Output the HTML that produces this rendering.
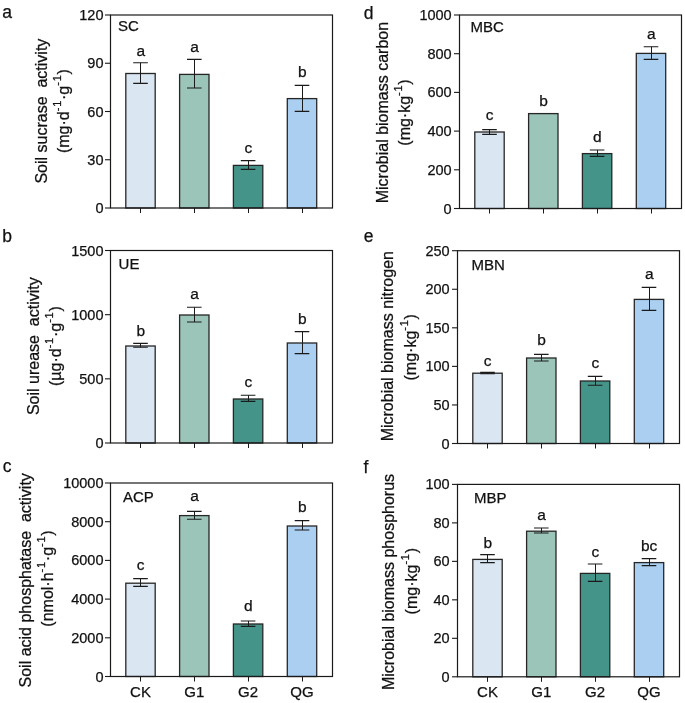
<!DOCTYPE html>
<html><head><meta charset="utf-8"><style>
html,body{margin:0;padding:0;background:#fff;}
body{width:685px;height:703px;overflow:hidden;}
svg{display:block;will-change:transform;}
text{font-family:"Liberation Sans",sans-serif;fill:#111;stroke:#111;stroke-width:0.25px;}
</style></head><body>
<svg width="685" height="703" viewBox="0 0 685 703">
<rect width="685" height="703" fill="#fff"/>
<rect x="125.80" y="73.50" width="29.40" height="134.50" fill="#dae6f2" stroke="#262626" stroke-width="1.3"/>
<path d="M140.50 62.80V83.40" stroke="#1a1a1a" stroke-width="1.05" fill="none"/>
<path d="M133.20 62.80H147.80M133.20 83.40H147.80" stroke="#1a1a1a" stroke-width="1.1" fill="none"/>
<text x="140.70" y="56.40" font-size="15.5" text-anchor="middle">a</text>
<path d="M140.50 208.00V213.00" stroke="#1a1a1a" stroke-width="1"/>
<rect x="179.60" y="74.40" width="29.40" height="133.60" fill="#9cc5b9" stroke="#262626" stroke-width="1.3"/>
<path d="M194.50 59.40V88.00" stroke="#1a1a1a" stroke-width="1.05" fill="none"/>
<path d="M187.00 59.40H201.60M187.00 88.00H201.60" stroke="#1a1a1a" stroke-width="1.1" fill="none"/>
<text x="194.50" y="52.00" font-size="15.5" text-anchor="middle">a</text>
<path d="M194.50 208.00V213.00" stroke="#1a1a1a" stroke-width="1"/>
<rect x="233.40" y="165.40" width="29.40" height="42.60" fill="#44948a" stroke="#262626" stroke-width="1.3"/>
<path d="M248.50 160.60V169.40" stroke="#1a1a1a" stroke-width="1.05" fill="none"/>
<path d="M240.80 160.60H255.40M240.80 169.40H255.40" stroke="#1a1a1a" stroke-width="1.1" fill="none"/>
<text x="248.30" y="153.00" font-size="15.5" text-anchor="middle">c</text>
<path d="M248.50 208.00V213.00" stroke="#1a1a1a" stroke-width="1"/>
<rect x="287.30" y="98.60" width="29.40" height="109.40" fill="#abcff1" stroke="#262626" stroke-width="1.3"/>
<path d="M302.50 85.40V111.40" stroke="#1a1a1a" stroke-width="1.05" fill="none"/>
<path d="M294.70 85.40H309.30M294.70 111.40H309.30" stroke="#1a1a1a" stroke-width="1.1" fill="none"/>
<text x="302.20" y="77.40" font-size="15.5" text-anchor="middle">b</text>
<path d="M302.50 208.00V213.00" stroke="#1a1a1a" stroke-width="1"/>
<rect x="110.50" y="15.00" width="222.00" height="193.00" fill="none" stroke="#1a1a1a" stroke-width="1.2"/>
<path d="M105.00 208.00H110.50" stroke="#1a1a1a" stroke-width="1.1"/>
<text x="103.50" y="213.00" font-size="14.5" text-anchor="end">0</text>
<path d="M105.00 159.75H110.50" stroke="#1a1a1a" stroke-width="1.1"/>
<text x="103.50" y="164.75" font-size="14.5" text-anchor="end">30</text>
<path d="M105.00 111.50H110.50" stroke="#1a1a1a" stroke-width="1.1"/>
<text x="103.50" y="116.50" font-size="14.5" text-anchor="end">60</text>
<path d="M105.00 63.25H110.50" stroke="#1a1a1a" stroke-width="1.1"/>
<text x="103.50" y="68.25" font-size="14.5" text-anchor="end">90</text>
<path d="M105.00 15.00H110.50" stroke="#1a1a1a" stroke-width="1.1"/>
<text x="103.50" y="20.00" font-size="14.5" text-anchor="end">120</text>
<text x="118.00" y="31.40" font-size="15">SC</text>
<text x="2.20" y="18.00" font-size="17.5">a</text>
<text transform="translate(47.40 111.10) rotate(-90)" font-size="16" text-anchor="middle" xml:space="preserve">Soil sucrase  activity</text>
<text transform="translate(69.20 111.10) rotate(-90)" font-size="16" text-anchor="middle"><tspan>(mg·d</tspan><tspan font-size="11" dy="-8" letter-spacing="0.75">-1</tspan><tspan dy="8">·g</tspan><tspan font-size="11" dy="-8" letter-spacing="0.75">-1</tspan><tspan dy="8">)</tspan></text>
<rect x="125.80" y="346.00" width="29.40" height="97.00" fill="#dae6f2" stroke="#262626" stroke-width="1.3"/>
<path d="M140.50 343.40V347.20" stroke="#1a1a1a" stroke-width="1.05" fill="none"/>
<path d="M133.20 343.40H147.80M133.20 347.20H147.80" stroke="#1a1a1a" stroke-width="1.1" fill="none"/>
<text x="140.70" y="336.00" font-size="15.5" text-anchor="middle">b</text>
<path d="M140.50 443.00V448.00" stroke="#1a1a1a" stroke-width="1"/>
<rect x="179.60" y="315.00" width="29.40" height="128.00" fill="#9cc5b9" stroke="#262626" stroke-width="1.3"/>
<path d="M194.50 307.20V322.00" stroke="#1a1a1a" stroke-width="1.05" fill="none"/>
<path d="M187.00 307.20H201.60M187.00 322.00H201.60" stroke="#1a1a1a" stroke-width="1.1" fill="none"/>
<text x="194.50" y="299.40" font-size="15.5" text-anchor="middle">a</text>
<path d="M194.50 443.00V448.00" stroke="#1a1a1a" stroke-width="1"/>
<rect x="233.40" y="399.00" width="29.40" height="44.00" fill="#44948a" stroke="#262626" stroke-width="1.3"/>
<path d="M248.50 395.20V401.40" stroke="#1a1a1a" stroke-width="1.05" fill="none"/>
<path d="M240.80 395.20H255.40M240.80 401.40H255.40" stroke="#1a1a1a" stroke-width="1.1" fill="none"/>
<text x="248.30" y="387.20" font-size="15.5" text-anchor="middle">c</text>
<path d="M248.50 443.00V448.00" stroke="#1a1a1a" stroke-width="1"/>
<rect x="287.30" y="343.00" width="29.40" height="100.00" fill="#abcff1" stroke="#262626" stroke-width="1.3"/>
<path d="M302.50 331.60V353.60" stroke="#1a1a1a" stroke-width="1.05" fill="none"/>
<path d="M294.70 331.60H309.30M294.70 353.60H309.30" stroke="#1a1a1a" stroke-width="1.1" fill="none"/>
<text x="302.20" y="323.60" font-size="15.5" text-anchor="middle">b</text>
<path d="M302.50 443.00V448.00" stroke="#1a1a1a" stroke-width="1"/>
<rect x="110.50" y="250.50" width="222.00" height="192.50" fill="none" stroke="#1a1a1a" stroke-width="1.2"/>
<path d="M105.00 443.00H110.50" stroke="#1a1a1a" stroke-width="1.1"/>
<text x="103.50" y="448.00" font-size="14.5" text-anchor="end">0</text>
<path d="M105.00 378.83H110.50" stroke="#1a1a1a" stroke-width="1.1"/>
<text x="103.50" y="383.83" font-size="14.5" text-anchor="end">500</text>
<path d="M105.00 314.67H110.50" stroke="#1a1a1a" stroke-width="1.1"/>
<text x="103.50" y="319.67" font-size="14.5" text-anchor="end">1000</text>
<path d="M105.00 250.50H110.50" stroke="#1a1a1a" stroke-width="1.1"/>
<text x="103.50" y="255.50" font-size="14.5" text-anchor="end">1500</text>
<text x="118.60" y="269.40" font-size="15">UE</text>
<text x="2.20" y="242.00" font-size="17.5">b</text>
<text transform="translate(38.90 346.20) rotate(-90)" font-size="16" text-anchor="middle" xml:space="preserve">Soil urease  activity</text>
<text transform="translate(61.00 346.10) rotate(-90)" font-size="16" text-anchor="middle"><tspan>(µg·d</tspan><tspan font-size="11" dy="-8" letter-spacing="0.75">-1</tspan><tspan dy="8">·g</tspan><tspan font-size="11" dy="-8" letter-spacing="0.75">-1</tspan><tspan dy="8">)</tspan></text>
<rect x="125.80" y="583.20" width="29.40" height="93.30" fill="#dae6f2" stroke="#262626" stroke-width="1.3"/>
<path d="M140.50 578.60V586.40" stroke="#1a1a1a" stroke-width="1.05" fill="none"/>
<path d="M133.20 578.60H147.80M133.20 586.40H147.80" stroke="#1a1a1a" stroke-width="1.1" fill="none"/>
<text x="140.70" y="570.00" font-size="15.5" text-anchor="middle">c</text>
<path d="M140.50 676.50V681.50" stroke="#1a1a1a" stroke-width="1"/>
<text x="140.50" y="697.3" font-size="15" text-anchor="middle">CK</text>
<rect x="179.60" y="515.60" width="29.40" height="160.90" fill="#9cc5b9" stroke="#262626" stroke-width="1.3"/>
<path d="M194.50 511.40V519.20" stroke="#1a1a1a" stroke-width="1.05" fill="none"/>
<path d="M187.00 511.40H201.60M187.00 519.20H201.60" stroke="#1a1a1a" stroke-width="1.1" fill="none"/>
<text x="194.50" y="501.40" font-size="15.5" text-anchor="middle">a</text>
<path d="M194.50 676.50V681.50" stroke="#1a1a1a" stroke-width="1"/>
<text x="194.30" y="697.3" font-size="15" text-anchor="middle">G1</text>
<rect x="233.40" y="624.00" width="29.40" height="52.50" fill="#44948a" stroke="#262626" stroke-width="1.3"/>
<path d="M248.50 621.00V626.40" stroke="#1a1a1a" stroke-width="1.05" fill="none"/>
<path d="M240.80 621.00H255.40M240.80 626.40H255.40" stroke="#1a1a1a" stroke-width="1.1" fill="none"/>
<text x="248.30" y="611.00" font-size="15.5" text-anchor="middle">d</text>
<path d="M248.50 676.50V681.50" stroke="#1a1a1a" stroke-width="1"/>
<text x="248.10" y="697.3" font-size="15" text-anchor="middle">G2</text>
<rect x="287.30" y="526.00" width="29.40" height="150.50" fill="#abcff1" stroke="#262626" stroke-width="1.3"/>
<path d="M302.50 520.60V530.00" stroke="#1a1a1a" stroke-width="1.05" fill="none"/>
<path d="M294.70 520.60H309.30M294.70 530.00H309.30" stroke="#1a1a1a" stroke-width="1.1" fill="none"/>
<text x="302.20" y="511.60" font-size="15.5" text-anchor="middle">b</text>
<path d="M302.50 676.50V681.50" stroke="#1a1a1a" stroke-width="1"/>
<text x="302.00" y="697.3" font-size="15" text-anchor="middle">QG</text>
<rect x="110.50" y="483.00" width="222.00" height="193.50" fill="none" stroke="#1a1a1a" stroke-width="1.2"/>
<path d="M105.00 676.50H110.50" stroke="#1a1a1a" stroke-width="1.1"/>
<text x="103.50" y="681.50" font-size="14.5" text-anchor="end">0</text>
<path d="M105.00 637.80H110.50" stroke="#1a1a1a" stroke-width="1.1"/>
<text x="103.50" y="642.80" font-size="14.5" text-anchor="end">2000</text>
<path d="M105.00 599.10H110.50" stroke="#1a1a1a" stroke-width="1.1"/>
<text x="103.50" y="604.10" font-size="14.5" text-anchor="end">4000</text>
<path d="M105.00 560.40H110.50" stroke="#1a1a1a" stroke-width="1.1"/>
<text x="103.50" y="565.40" font-size="14.5" text-anchor="end">6000</text>
<path d="M105.00 521.70H110.50" stroke="#1a1a1a" stroke-width="1.1"/>
<text x="103.50" y="526.70" font-size="14.5" text-anchor="end">8000</text>
<path d="M105.00 483.00H110.50" stroke="#1a1a1a" stroke-width="1.1"/>
<text x="103.50" y="488.00" font-size="14.5" text-anchor="end">10000</text>
<text x="123.00" y="501.60" font-size="15">ACP</text>
<text x="2.80" y="472.00" font-size="17.5">c</text>
<text transform="translate(30.90 580.30) rotate(-90)" font-size="16" text-anchor="middle" xml:space="preserve">Soil acid phosphatase  activity</text>
<text transform="translate(53.00 578.50) rotate(-90)" font-size="16" text-anchor="middle"><tspan>(nmol·h</tspan><tspan font-size="11" dy="-8" letter-spacing="0.75">-1</tspan><tspan dy="8">·g</tspan><tspan font-size="11" dy="-8" letter-spacing="0.75">-1</tspan><tspan dy="8">)</tspan></text>
<rect x="474.80" y="132.00" width="29.40" height="76.50" fill="#dae6f2" stroke="#262626" stroke-width="1.3"/>
<path d="M489.50 129.60V134.40" stroke="#1a1a1a" stroke-width="1.05" fill="none"/>
<path d="M482.20 129.60H496.80M482.20 134.40H496.80" stroke="#1a1a1a" stroke-width="1.1" fill="none"/>
<text x="489.70" y="119.50" font-size="15.5" text-anchor="middle">c</text>
<path d="M489.50 208.50V213.50" stroke="#1a1a1a" stroke-width="1"/>
<rect x="528.60" y="113.60" width="29.40" height="94.90" fill="#9cc5b9" stroke="#262626" stroke-width="1.3"/>
<text x="543.50" y="106.00" font-size="15.5" text-anchor="middle">b</text>
<path d="M543.50 208.50V213.50" stroke="#1a1a1a" stroke-width="1"/>
<rect x="582.40" y="153.60" width="29.40" height="54.90" fill="#44948a" stroke="#262626" stroke-width="1.3"/>
<path d="M597.50 150.00V156.40" stroke="#1a1a1a" stroke-width="1.05" fill="none"/>
<path d="M589.80 150.00H604.40M589.80 156.40H604.40" stroke="#1a1a1a" stroke-width="1.1" fill="none"/>
<text x="597.30" y="141.60" font-size="15.5" text-anchor="middle">d</text>
<path d="M597.50 208.50V213.50" stroke="#1a1a1a" stroke-width="1"/>
<rect x="636.30" y="53.40" width="29.40" height="155.10" fill="#abcff1" stroke="#262626" stroke-width="1.3"/>
<path d="M651.50 46.80V59.40" stroke="#1a1a1a" stroke-width="1.05" fill="none"/>
<path d="M643.70 46.80H658.30M643.70 59.40H658.30" stroke="#1a1a1a" stroke-width="1.1" fill="none"/>
<text x="651.20" y="39.00" font-size="15.5" text-anchor="middle">a</text>
<path d="M651.50 208.50V213.50" stroke="#1a1a1a" stroke-width="1"/>
<rect x="459.50" y="15.00" width="222.00" height="193.50" fill="none" stroke="#1a1a1a" stroke-width="1.2"/>
<path d="M454.00 208.50H459.50" stroke="#1a1a1a" stroke-width="1.1"/>
<text x="451.70" y="213.50" font-size="14.5" text-anchor="end">0</text>
<path d="M454.00 169.80H459.50" stroke="#1a1a1a" stroke-width="1.1"/>
<text x="451.70" y="174.80" font-size="14.5" text-anchor="end">200</text>
<path d="M454.00 131.10H459.50" stroke="#1a1a1a" stroke-width="1.1"/>
<text x="451.70" y="136.10" font-size="14.5" text-anchor="end">400</text>
<path d="M454.00 92.40H459.50" stroke="#1a1a1a" stroke-width="1.1"/>
<text x="451.70" y="97.40" font-size="14.5" text-anchor="end">600</text>
<path d="M454.00 53.70H459.50" stroke="#1a1a1a" stroke-width="1.1"/>
<text x="451.70" y="58.70" font-size="14.5" text-anchor="end">800</text>
<path d="M454.00 15.00H459.50" stroke="#1a1a1a" stroke-width="1.1"/>
<text x="451.70" y="20.00" font-size="14.5" text-anchor="end">1000</text>
<text x="470.40" y="32.00" font-size="15">MBC</text>
<text x="363.80" y="18.80" font-size="17.5">d</text>
<text transform="translate(388.10 112.60) rotate(-90)" font-size="16" text-anchor="middle" xml:space="preserve">Microbial biomass carbon</text>
<text transform="translate(409.80 112.50) rotate(-90)" font-size="16" text-anchor="middle"><tspan>(mg·kg</tspan><tspan font-size="11" dy="-8" letter-spacing="0.75">-1</tspan><tspan dy="8">)</tspan></text>
<rect x="472.80" y="373.20" width="29.40" height="70.30" fill="#dae6f2" stroke="#262626" stroke-width="1.3"/>
<path d="M487.50 372.40V373.80" stroke="#1a1a1a" stroke-width="1.05" fill="none"/>
<path d="M480.20 372.40H494.80M480.20 373.80H494.80" stroke="#1a1a1a" stroke-width="1.1" fill="none"/>
<text x="487.70" y="365.60" font-size="15.5" text-anchor="middle">c</text>
<path d="M487.50 443.50V448.50" stroke="#1a1a1a" stroke-width="1"/>
<rect x="526.60" y="358.00" width="29.40" height="85.50" fill="#9cc5b9" stroke="#262626" stroke-width="1.3"/>
<path d="M541.50 354.40V361.00" stroke="#1a1a1a" stroke-width="1.05" fill="none"/>
<path d="M534.00 354.40H548.60M534.00 361.00H548.60" stroke="#1a1a1a" stroke-width="1.1" fill="none"/>
<text x="541.50" y="345.40" font-size="15.5" text-anchor="middle">b</text>
<path d="M541.50 443.50V448.50" stroke="#1a1a1a" stroke-width="1"/>
<rect x="580.40" y="381.00" width="29.40" height="62.50" fill="#44948a" stroke="#262626" stroke-width="1.3"/>
<path d="M595.50 376.40V385.20" stroke="#1a1a1a" stroke-width="1.05" fill="none"/>
<path d="M587.80 376.40H602.40M587.80 385.20H602.40" stroke="#1a1a1a" stroke-width="1.1" fill="none"/>
<text x="595.30" y="368.00" font-size="15.5" text-anchor="middle">c</text>
<path d="M595.50 443.50V448.50" stroke="#1a1a1a" stroke-width="1"/>
<rect x="634.30" y="299.40" width="29.40" height="144.10" fill="#abcff1" stroke="#262626" stroke-width="1.3"/>
<path d="M649.50 287.40V310.40" stroke="#1a1a1a" stroke-width="1.05" fill="none"/>
<path d="M641.70 287.40H656.30M641.70 310.40H656.30" stroke="#1a1a1a" stroke-width="1.1" fill="none"/>
<text x="649.20" y="278.60" font-size="15.5" text-anchor="middle">a</text>
<path d="M649.50 443.50V448.50" stroke="#1a1a1a" stroke-width="1"/>
<rect x="457.50" y="250.70" width="222.00" height="192.80" fill="none" stroke="#1a1a1a" stroke-width="1.2"/>
<path d="M452.00 443.50H457.50" stroke="#1a1a1a" stroke-width="1.1"/>
<text x="449.70" y="448.50" font-size="14.5" text-anchor="end">0</text>
<path d="M452.00 404.94H457.50" stroke="#1a1a1a" stroke-width="1.1"/>
<text x="449.70" y="409.94" font-size="14.5" text-anchor="end">50</text>
<path d="M452.00 366.38H457.50" stroke="#1a1a1a" stroke-width="1.1"/>
<text x="449.70" y="371.38" font-size="14.5" text-anchor="end">100</text>
<path d="M452.00 327.82H457.50" stroke="#1a1a1a" stroke-width="1.1"/>
<text x="449.70" y="332.82" font-size="14.5" text-anchor="end">150</text>
<path d="M452.00 289.26H457.50" stroke="#1a1a1a" stroke-width="1.1"/>
<text x="449.70" y="294.26" font-size="14.5" text-anchor="end">200</text>
<path d="M452.00 250.70H457.50" stroke="#1a1a1a" stroke-width="1.1"/>
<text x="449.70" y="255.70" font-size="14.5" text-anchor="end">250</text>
<text x="471.60" y="270.00" font-size="15">MBN</text>
<text x="363.80" y="242.40" font-size="17.5">e</text>
<text transform="translate(393.40 346.20) rotate(-90)" font-size="16" text-anchor="middle" xml:space="preserve">Microbial biomass nitrogen</text>
<text transform="translate(415.80 347.30) rotate(-90)" font-size="16" text-anchor="middle"><tspan>(mg·kg</tspan><tspan font-size="11" dy="-8" letter-spacing="0.75">-1</tspan><tspan dy="8">)</tspan></text>
<rect x="472.80" y="559.40" width="29.40" height="117.40" fill="#dae6f2" stroke="#262626" stroke-width="1.3"/>
<path d="M487.50 554.60V562.60" stroke="#1a1a1a" stroke-width="1.05" fill="none"/>
<path d="M480.20 554.60H494.80M480.20 562.60H494.80" stroke="#1a1a1a" stroke-width="1.1" fill="none"/>
<text x="487.70" y="547.60" font-size="15.5" text-anchor="middle">b</text>
<path d="M487.50 676.80V681.80" stroke="#1a1a1a" stroke-width="1"/>
<text x="487.50" y="697.3" font-size="15" text-anchor="middle">CK</text>
<rect x="526.60" y="531.20" width="29.40" height="145.60" fill="#9cc5b9" stroke="#262626" stroke-width="1.3"/>
<path d="M541.50 528.00V533.00" stroke="#1a1a1a" stroke-width="1.05" fill="none"/>
<path d="M534.00 528.00H548.60M534.00 533.00H548.60" stroke="#1a1a1a" stroke-width="1.1" fill="none"/>
<text x="541.50" y="520.00" font-size="15.5" text-anchor="middle">a</text>
<path d="M541.50 676.80V681.80" stroke="#1a1a1a" stroke-width="1"/>
<text x="541.30" y="697.3" font-size="15" text-anchor="middle">G1</text>
<rect x="580.40" y="573.40" width="29.40" height="103.40" fill="#44948a" stroke="#262626" stroke-width="1.3"/>
<path d="M595.50 564.00V581.40" stroke="#1a1a1a" stroke-width="1.05" fill="none"/>
<path d="M587.80 564.00H602.40M587.80 581.40H602.40" stroke="#1a1a1a" stroke-width="1.1" fill="none"/>
<text x="595.30" y="557.00" font-size="15.5" text-anchor="middle">c</text>
<path d="M595.50 676.80V681.80" stroke="#1a1a1a" stroke-width="1"/>
<text x="595.10" y="697.3" font-size="15" text-anchor="middle">G2</text>
<rect x="634.30" y="562.60" width="29.40" height="114.20" fill="#abcff1" stroke="#262626" stroke-width="1.3"/>
<path d="M649.50 558.60V565.60" stroke="#1a1a1a" stroke-width="1.05" fill="none"/>
<path d="M641.70 558.60H656.30M641.70 565.60H656.30" stroke="#1a1a1a" stroke-width="1.1" fill="none"/>
<text x="649.20" y="551.00" font-size="15.5" text-anchor="middle">bc</text>
<path d="M649.50 676.80V681.80" stroke="#1a1a1a" stroke-width="1"/>
<text x="649.00" y="697.3" font-size="15" text-anchor="middle">QG</text>
<rect x="457.50" y="484.40" width="222.00" height="192.40" fill="none" stroke="#1a1a1a" stroke-width="1.2"/>
<path d="M452.00 676.80H457.50" stroke="#1a1a1a" stroke-width="1.1"/>
<text x="449.70" y="681.80" font-size="14.5" text-anchor="end">0</text>
<path d="M452.00 638.32H457.50" stroke="#1a1a1a" stroke-width="1.1"/>
<text x="449.70" y="643.32" font-size="14.5" text-anchor="end">20</text>
<path d="M452.00 599.84H457.50" stroke="#1a1a1a" stroke-width="1.1"/>
<text x="449.70" y="604.84" font-size="14.5" text-anchor="end">40</text>
<path d="M452.00 561.36H457.50" stroke="#1a1a1a" stroke-width="1.1"/>
<text x="449.70" y="566.36" font-size="14.5" text-anchor="end">60</text>
<path d="M452.00 522.88H457.50" stroke="#1a1a1a" stroke-width="1.1"/>
<text x="449.70" y="527.88" font-size="14.5" text-anchor="end">80</text>
<path d="M452.00 484.40H457.50" stroke="#1a1a1a" stroke-width="1.1"/>
<text x="449.70" y="489.40" font-size="14.5" text-anchor="end">100</text>
<text x="474.00" y="502.60" font-size="15">MBP</text>
<text x="363.40" y="473.10" font-size="17.5">f</text>
<text transform="translate(393.70 582.00) rotate(-90)" font-size="16" text-anchor="middle" xml:space="preserve">Microbial biomass phosphorus</text>
<text transform="translate(416.50 581.20) rotate(-90)" font-size="16" text-anchor="middle"><tspan>(mg·kg</tspan><tspan font-size="11" dy="-8" letter-spacing="0.75">-1</tspan><tspan dy="8">)</tspan></text>
</svg>
</body></html>
